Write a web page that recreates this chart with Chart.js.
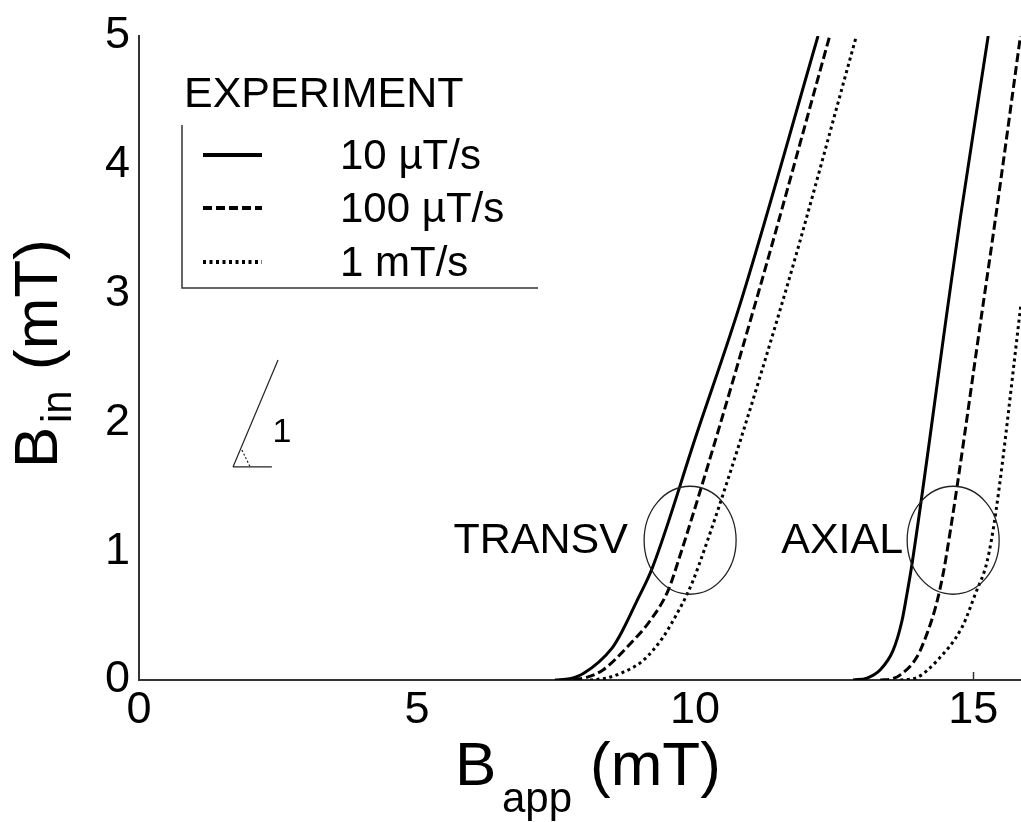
<!DOCTYPE html>
<html>
<head>
<meta charset="utf-8">
<script src="https://cdn.jsdelivr.net/npm/chart.js@4.4.1/dist/chart.umd.min.js"></script>
<style>
  html, body { margin: 0; padding: 0; background: #fff; }
  #wrap { width: 1021px; height: 822px; }
</style>
</head>
<body>
<div id="wrap"><canvas id="chart" width="1021" height="822"></canvas></div>
<script>
// tick labels
const xTicks = [0, 5, 10, 15];
const yTicks = [0, 1, 2, 3, 4, 5];
const rateLabels = ['10 µT/s', '100 µT/s', '1 mT/s'];

// B_in vs B_app in mT: [B_app, B_in]
const transv10 = [[7.48, 0], [7.75, 0.01], [7.99, 0.05], [8.51, 0.25], [8.69, 0.38], [8.96, 0.62], [9.23, 0.87], [10.02, 1.9], [10.81, 2.92], [12.21, 5]];
const transv100 = [[7.81, 0], [8.05, 0.02], [8.35, 0.08], [8.83, 0.28], [9.19, 0.46], [9.51, 0.69], [9.68, 0.9], [11.08, 2.92], [12.42, 5]];
const transv1m = [[8.11, 0], [8.4, 0.015], [8.65, 0.05], [9.06, 0.15], [9.42, 0.33], [9.68, 0.52], [9.86, 0.67], [10.05, 0.87], [11.56, 2.92], [12.9, 5]];
const axial10 = [[12.84, 0], [13.09, 0.015], [13.33, 0.08], [13.56, 0.23], [13.72, 0.46], [13.81, 0.67], [13.9, 0.9], [14.55, 2.92], [14.77, 3.59], [15.27, 5]];
const axial100 = [[13.33, 0], [13.55, 0.01], [13.69, 0.04], [13.99, 0.18], [14.17, 0.36], [14.32, 0.56], [14.41, 0.72], [14.5, 0.92], [15.18, 2.92], [15.4, 3.58], [15.85, 5]];
const axial1m = [[13.69, 0], [13.99, 0.02], [14.35, 0.15], [14.8, 0.41], [15.04, 0.67], [15.25, 0.92], [15.41, 1.31], [15.86, 2.92]];

// slope-1 indicator
const slopeLine = [[1.69, 1.654], [2.5, 2.485]];
const slopeBase = [[1.69, 1.654], [2.39, 1.654]];
const slopeArc = [[1.85, 1.785], [2.0, 1.654]];

const FONT = '"Liberation Sans", Arial, sans-serif';
const DASHED = [9, 4];
const DOTTED = [3, 3.5];

function pts(arr) {
    return arr.map(p => ({ x: p[0], y: p[1] }));
}

function curve(label, data, dash) {
    return {
        label: label,
        data: pts(data),
        showLine: true,
        borderColor: '#000',
        borderWidth: 3,
        borderDash: dash,
        pointRadius: 0,
        cubicInterpolationMode: 'monotone',
        fill: false
    };
}

function thin(data, dash) {
    return {
        label: '',
        data: pts(data),
        showLine: true,
        borderColor: '#222',
        borderWidth: 1.2,
        borderDash: dash,
        pointRadius: 0,
        fill: false
    };
}

// ellipses, text and legend drawn over the plot
const decorPlugin = {
    id: 'decor',
    afterDatasetsDraw(chart) {
        const ctx = chart.ctx;
        const xs = chart.scales.x;
        const ys = chart.scales.y;
        ctx.save();

        // circled regions
        ctx.strokeStyle = '#222';
        ctx.lineWidth = 1.3;
        [[9.91, 1.085], [14.64, 1.085]].forEach(c => {
            ctx.beginPath();
            ctx.ellipse(xs.getPixelForValue(c[0]), ys.getPixelForValue(c[1]), 46, 54, 0, 0, Math.PI * 2);
            ctx.stroke();
        });

        ctx.fillStyle = '#000';
        ctx.font = '43px ' + FONT;
        ctx.textAlign = 'right';
        ctx.textBaseline = 'middle';
        ctx.fillText('TRANSV', xs.getPixelForValue(8.79), ys.getPixelForValue(1.08));
        ctx.fillText('AXIAL', xs.getPixelForValue(13.74), ys.getPixelForValue(1.08));

        ctx.textAlign = 'center';
        ctx.font = '34px ' + FONT;
        ctx.fillText('1', xs.getPixelForValue(2.57), ys.getPixelForValue(1.92));

        // legend
        ctx.textAlign = 'left';
        ctx.textBaseline = 'alphabetic';
        ctx.font = '43px ' + FONT;
        ctx.fillText('EXPERIMENT', 184, 107);
        ctx.strokeStyle = '#333';
        ctx.lineWidth = 1.5;
        ctx.beginPath();
        ctx.moveTo(182, 125);
        ctx.lineTo(182, 288);
        ctx.lineTo(538, 288);
        ctx.stroke();

        ctx.font = '42px ' + FONT;
        ctx.textBaseline = 'middle';
        const rows = [155, 208, 262];
        rows.forEach((y, i) => {
            const ds = chart.data.datasets[i];
            ctx.strokeStyle = '#000';
            ctx.lineWidth = 4;
            ctx.setLineDash(ds.borderDash || []);
            ctx.beginPath();
            ctx.moveTo(203, y);
            ctx.lineTo(262, y);
            ctx.stroke();
            ctx.setLineDash([]);
            ctx.fillText(ds.label, 340, y + 2);
        });

        // axis titles with subscripts
        ctx.textBaseline = 'alphabetic';
        ctx.font = '62px ' + FONT;
        ctx.fillText('B', 455, 785);
        ctx.fillText('(mT)', 590, 785);
        ctx.font = '42px ' + FONT;
        ctx.fillText('app', 502, 812);

        ctx.translate(57, 468);
        ctx.rotate(-Math.PI / 2);
        ctx.font = '62px ' + FONT;
        ctx.fillText('B', 0, 0);
        ctx.fillText('(mT)', 98, 0);
        ctx.font = '42px ' + FONT;
        ctx.fillText('in', 45, 14);

        ctx.restore();
    }
};

new Chart(document.getElementById('chart').getContext('2d'), {
    type: 'scatter',
    data: {
        datasets: [
            curve(rateLabels[0], transv10, []),
            curve(rateLabels[1], transv100, DASHED),
            curve(rateLabels[2], transv1m, DOTTED),
            curve(rateLabels[0], axial10, []),
            curve(rateLabels[1], axial100, DASHED),
            curve(rateLabels[2], axial1m, DOTTED),
            thin(slopeLine, []),
            thin(slopeBase, []),
            thin(slopeArc, [2, 2])
        ]
    },
    options: {
        responsive: false,
        animation: false,
        devicePixelRatio: 1,
        layout: { padding: { top: 29, right: 0, left: 0, bottom: 0 } },
        plugins: {
            legend: { display: false },
            tooltip: { enabled: false }
        },
        scales: {
            x: {
                type: 'linear',
                min: 0,
                max: 15.86,
                afterBuildTicks: axis => { axis.ticks = xTicks.map(v => ({ value: v })); },
                afterFit: axis => { axis.height = 142; },
                border: { display: true, color: '#333', width: 2 },
                grid: {
                    drawOnChartArea: false,
                    drawTicks: true,
                    tickLength: -8,
                    tickWidth: 1.5,
                    tickColor: c => (c.tick && c.tick.value === 15) ? '#333' : 'rgba(0,0,0,0)'
                },
                ticks: {
                    autoSkip: false,
                    maxRotation: 0,
                    padding: 12,
                    color: '#000',
                    font: { family: FONT, size: 45 }
                },
                title: { display: false }
            },
            y: {
                type: 'linear',
                min: 0,
                max: 5,
                afterBuildTicks: axis => { axis.ticks = yTicks.map(v => ({ value: v })); },
                afterFit: axis => { axis.width = 139; },
                border: { display: true, color: '#333', width: 2 },
                grid: { drawOnChartArea: false, drawTicks: false },
                ticks: {
                    padding: 9,
                    color: '#000',
                    font: { family: FONT, size: 45 }
                },
                title: { display: false }
            }
        }
    },
    plugins: [decorPlugin]
});
</script>
</body>
</html>
